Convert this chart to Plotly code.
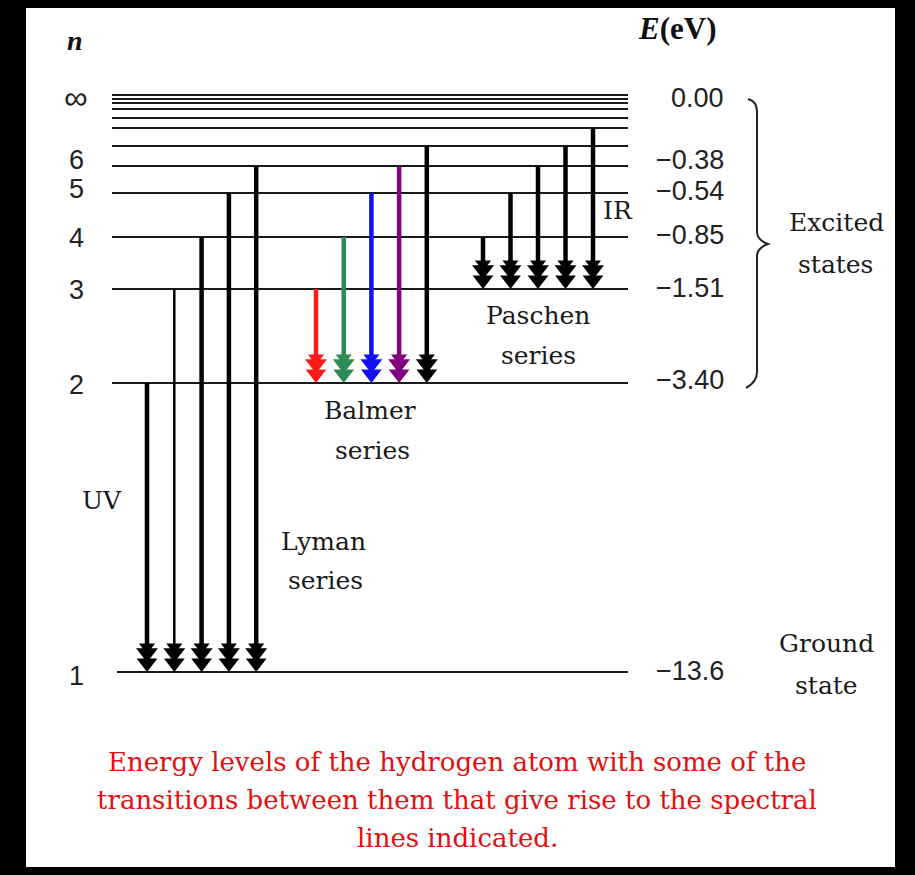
import plotly.graph_objects as go

# ---------------- data ----------------
level_n = ["1", "2", "3", "4", "5", "6", "7", "8", "9", "10", "11", "12", "∞"]
level_height = [0, 289, 383, 435, 479, 506, 526, 544, 554, 563, 569, 573, 577]  # schematic heights
labeled_n = ["1", "2", "3", "4", "5", "6", "∞"]
energy_labels = ["−13.6", "−3.40", "−1.51", "−0.85", "−0.54", "−0.38", "0.00"]

lyman_upper = ["2", "3", "4", "5", "6"]
balmer_upper = ["3", "4", "5", "6", "7"]
paschen_upper = ["4", "5", "6", "7", "8"]
balmer_colors = ["#ff1a1a", "#2e8b57", "#1010f0", "#800080", "#000000"]
caption = ["Energy levels of the hydrogen atom with some of the",
           "transitions between them that give rise to the spectral",
           "lines indicated."]

H = dict(zip(level_n, level_height))

# ---------------- layout helpers (image frame) ----------------
W, HGT = 915, 875
ML, MR, MT, MB = 26, 20, 8, 8
GROUND_PY = 672          # pixel row of the ground level


def Y(py):               # pixel row -> diagram units
    return GROUND_PY - py


fig = go.Figure()

# energy level lines
lx, ly = [], []
for n in level_n:
    x0 = 117 if n == "1" else 112
    lx += [x0, 628, None]
    ly += [H[n], H[n], None]
fig.add_trace(go.Scatter(x=lx, y=ly, mode="lines", line=dict(color="#1a1a1a", width=2),
                         hoverinfo="skip", showlegend=False))


def add_arrows(x_start, dx, uppers, lower, colors, widths):
    for i, up in enumerate(uppers):
        x = x_start + dx * i
        c = colors[i]
        fig.add_trace(go.Scatter(x=[x, x], y=[H[up], H[lower] + 10], mode="lines",
                                 line=dict(color=c, width=widths[i]),
                                 hoverinfo="skip", showlegend=False))
        fig.add_trace(go.Scatter(x=[x, x, x], y=[H[lower] + 9, H[lower] + 19, H[lower] + 25],
                                 mode="markers",
                                 marker=dict(symbol="triangle-down", size=[18, 19, 14], color=c,
                                             opacity=1, line=dict(width=0)),
                                 hoverinfo="skip", showlegend=False))


add_arrows(147, 27.3, lyman_upper, "1", ["#000"] * 5, [4.5, 2.5, 4.5, 4.5, 4.5])
add_arrows(316, 27.7, balmer_upper, "2", balmer_colors, [4.5] * 5)
add_arrows(483, 27.5, paschen_upper, "3", ["#000"] * 5, [4.5] * 5)

ann = []
num_font = dict(family="Liberation Sans", size=27, color="#222")
serif = dict(family="DejaVu Serif", size=25, color="#1a1a1a")

# left n labels
n_py = {"∞": 97, "6": 160, "5": 189, "4": 238, "3": 290, "2": 385, "1": 676}
for n in labeled_n:
    f = dict(num_font, size=33) if n == "∞" else num_font
    ann.append(dict(x=76, y=Y(n_py[n]), text=n, showarrow=False, font=f,
                    xanchor="center", yanchor="middle"))
# right energy labels
e_py = [671, 380, 288, 235, 191, 160, 98]
for lab, py in zip(energy_labels, e_py):
    ann.append(dict(x=726, y=Y(py), text=lab, showarrow=False, font=num_font,
                    xanchor="right", yanchor="middle"))

texts = [
    ("<b><i>n</i></b>", 75, 40, dict(family="Liberation Serif", size=28, color="#111")),
    ("<b><i>E</i>(eV)</b>", 677, 28, dict(family="Liberation Serif", size=31, color="#111")),
    ("IR", 618, 210, serif),
    ("Excited", 836, 222, serif),
    ("states", 835, 264, serif),
    ("Ground", 826, 643, serif),
    ("state", 826, 685, serif),
    ("Paschen", 538, 315, serif),
    ("series", 538, 355, serif),
    ("Balmer", 370, 410, serif),
    ("series", 372, 450, serif),
    ("UV", 102, 500, serif),
    ("Lyman", 323, 541, serif),
    ("series", 325, 580, serif),
]
for t, x, py, f in texts:
    ann.append(dict(x=x, y=Y(py), text=t, showarrow=False, font=f,
                    xanchor="center", yanchor="middle"))

for i, line in enumerate(caption):
    ann.append(dict(x=457, y=Y(762 + 38 * i), text=line, showarrow=False,
                    font=dict(family="DejaVu Serif", size=26, color="#e01010"),
                    xanchor="center", yanchor="middle"))

# curly brace for excited states
pts = "M {a},{b} Q 757,{c} 757,{d} L 757,{e} Q 757,{f} 768,{g} Q 757,{h} 757,{i} L 757,{j} Q 757,{k} 746,{l}"
brace = pts.format(a=748, b=Y(99), c=Y(101), d=Y(112), e=Y(232), f=Y(240), g=Y(244),
                   h=Y(248), i=Y(256), j=Y(372), k=Y(382), l=Y(388))
shapes = [dict(type="path", path=brace, xref="x", yref="y",
               line=dict(color="#222", width=2))]

fig.update_layout(
    width=W, height=HGT,
    margin=dict(l=ML, r=MR, t=MT, b=MB),
    paper_bgcolor="#000000", plot_bgcolor="#ffffff",
    xaxis=dict(range=[ML, W - MR], visible=False, fixedrange=True),
    yaxis=dict(range=[Y(HGT - MB), Y(MT)], visible=False, fixedrange=True),
    annotations=ann, shapes=shapes, showlegend=False,
)

fig.write_html("out.html", config={"displayModeBar": False},
               post_script="document.body.style.margin='0';"
                           "document.body.style.background='#000';"
                           "document.body.style.overflow='hidden';")
